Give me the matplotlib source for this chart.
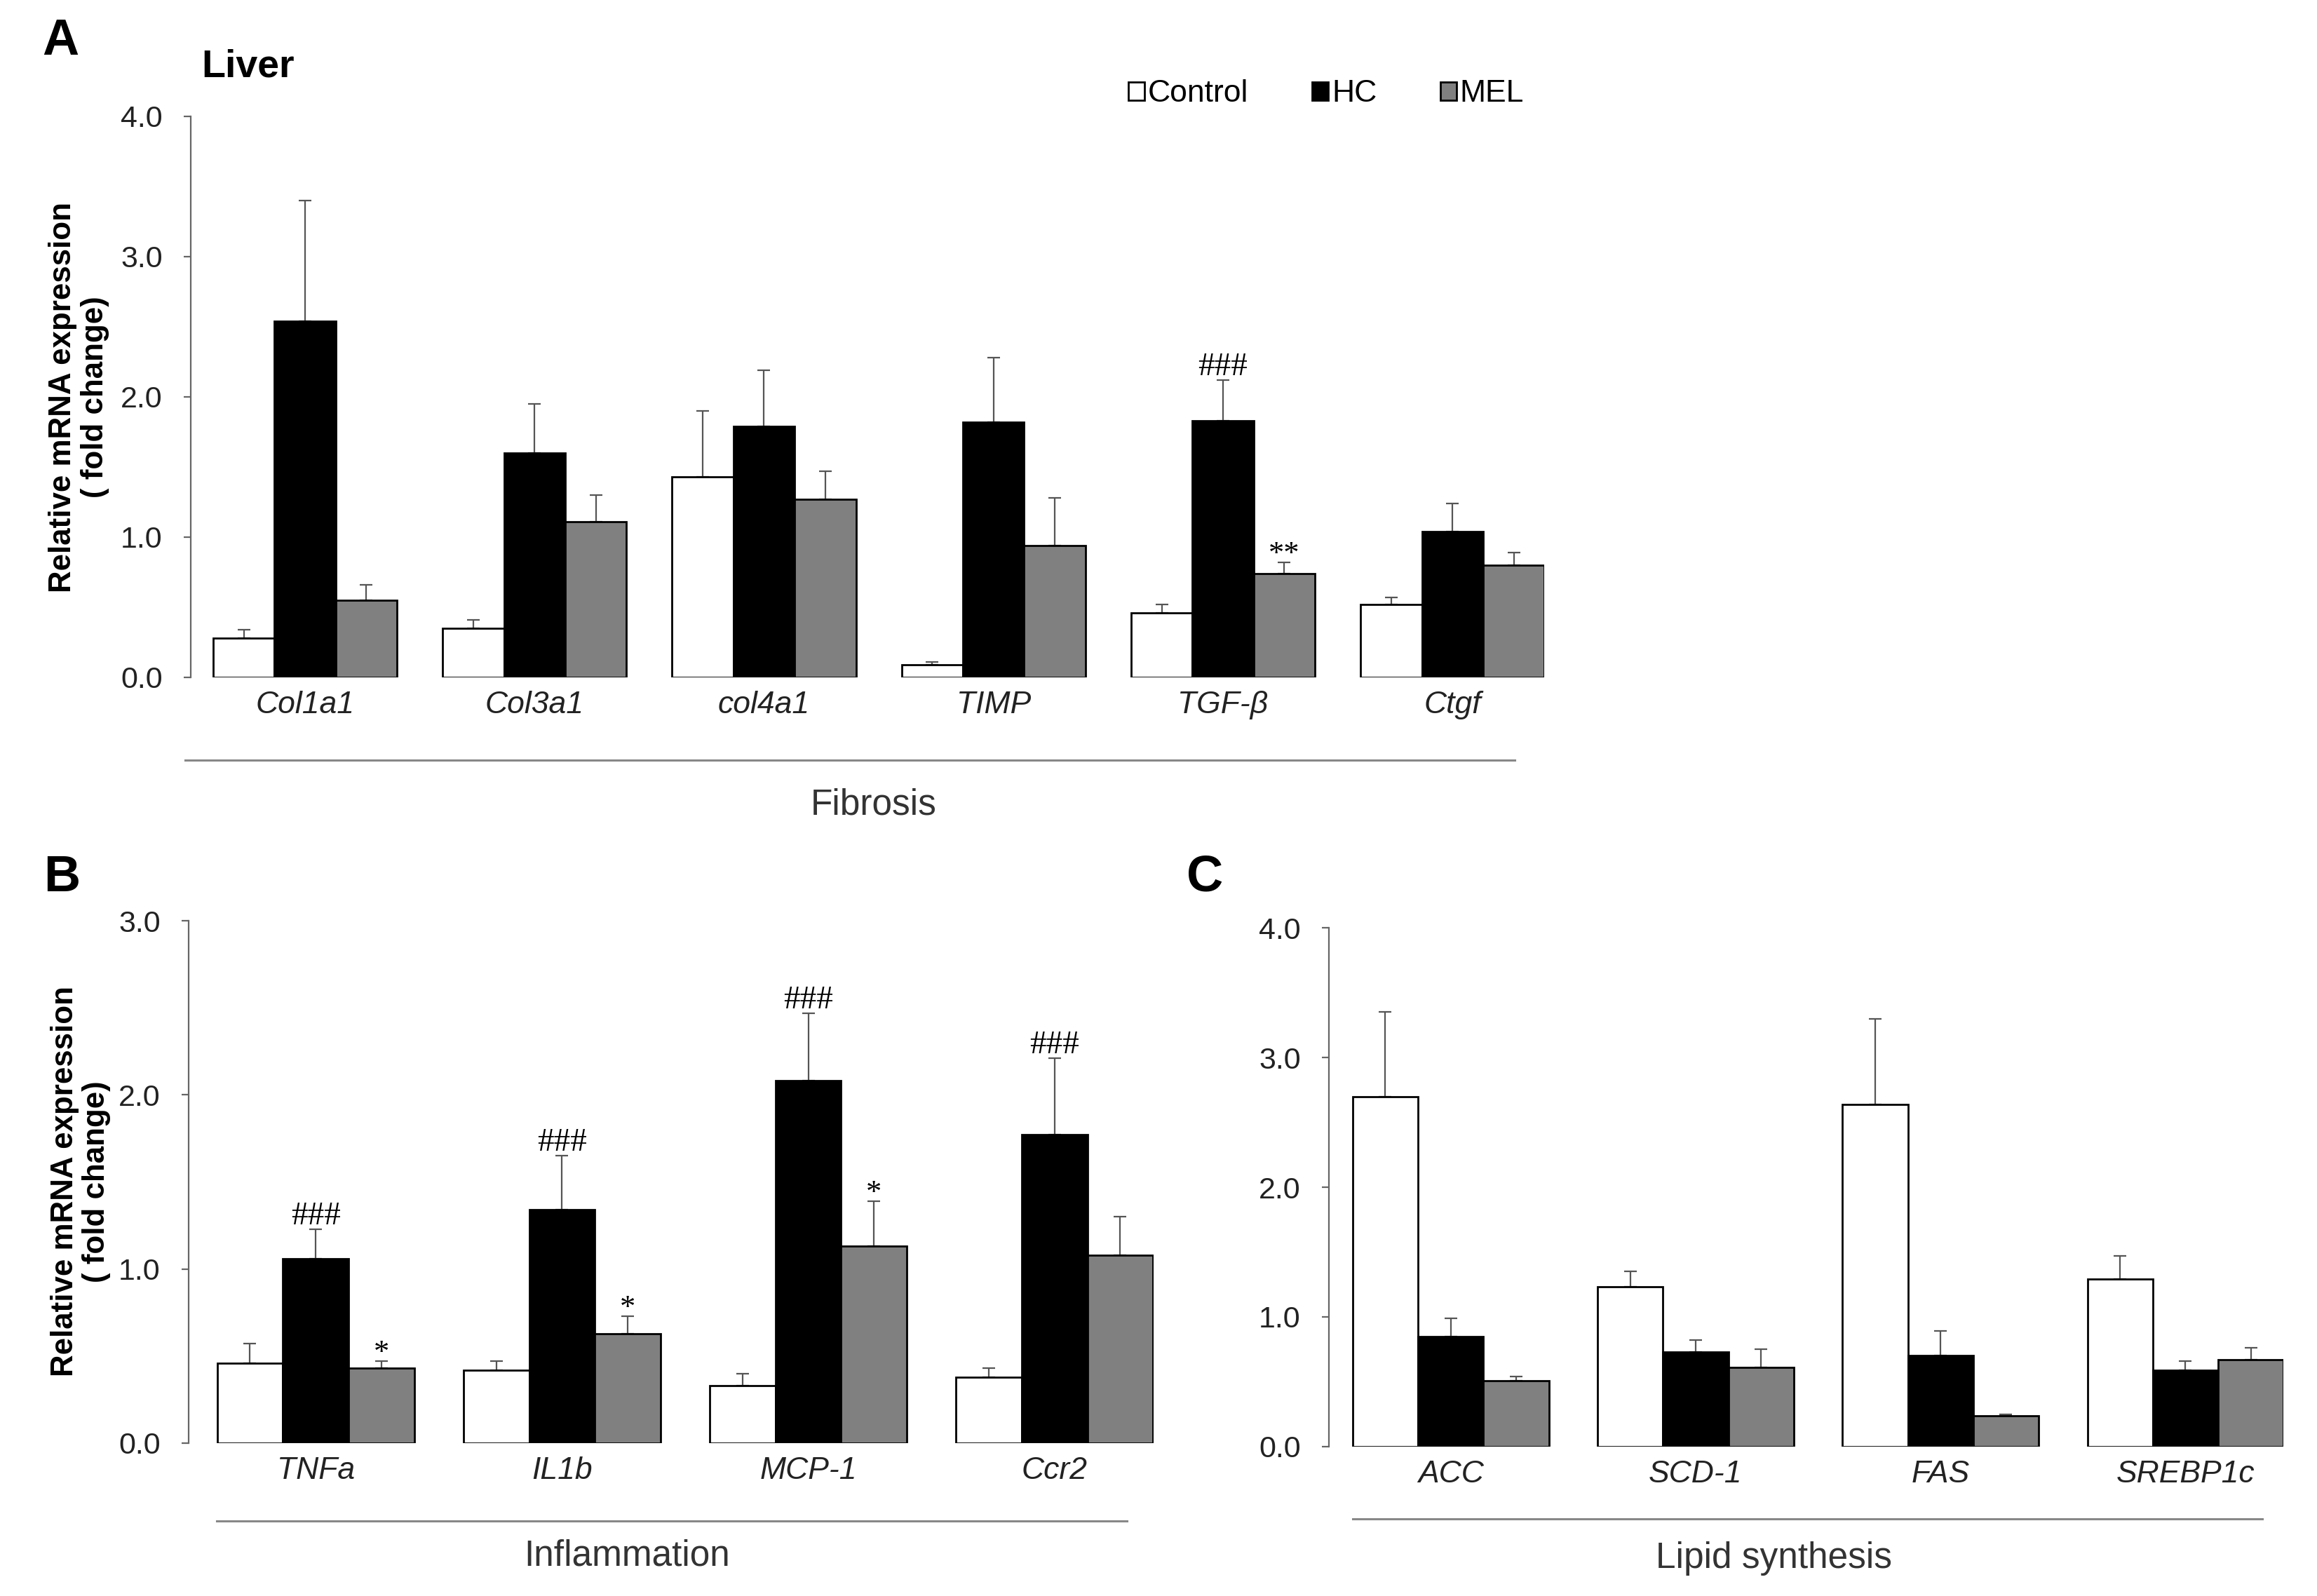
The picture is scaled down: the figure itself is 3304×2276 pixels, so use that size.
import numpy as np
import matplotlib
matplotlib.use('Agg')
import matplotlib.pyplot as plt
import matplotlib.transforms as mtransforms

plt.rcParams['font.family'] = ['Liberation Sans', 'DejaVu Sans']

# --- data ---
groups = ['Control', 'HC', 'MEL']
colors = ['white', 'black', '#808080']

genes_a = ['Col1a1', 'Col3a1', 'col4a1', 'TIMP', 'TGF-β', 'Ctgf']
ctrl_a = [0.28, 0.35, 1.43, 0.09, 0.46, 0.52]
ctrl_a_se = [0.06, 0.06, 0.47, 0.02, 0.06, 0.05]
hc_a = [2.54, 1.60, 1.79, 1.82, 1.83, 1.04]
hc_a_se = [0.86, 0.35, 0.40, 0.46, 0.29, 0.20]
mel_a = [0.55, 1.11, 1.27, 0.94, 0.74, 0.80]
mel_a_se = [0.11, 0.19, 0.20, 0.34, 0.08, 0.09]
hc_a_sig = ['', '', '', '', '###', '']
mel_a_sig = ['', '', '', '', '**', '']

genes_b = ['TNFa', 'IL1b', 'MCP-1', 'Ccr2']
ctrl_b = [0.46, 0.42, 0.33, 0.38]
ctrl_b_se = [0.11, 0.05, 0.07, 0.05]
hc_b = [1.06, 1.34, 2.08, 1.77]
hc_b_se = [0.17, 0.31, 0.39, 0.44]
mel_b = [0.43, 0.63, 1.13, 1.08]
mel_b_se = [0.04, 0.10, 0.26, 0.22]
hc_b_sig = ['###', '###', '###', '###']
mel_b_sig = ['*', '*', '*', '']

genes_c = ['ACC', 'SCD-1', 'FAS', 'SREBP1c']
ctrl_c = [2.70, 1.23, 2.64, 1.29]
ctrl_c_se = [0.65, 0.12, 0.66, 0.18]
hc_c = [0.85, 0.73, 0.70, 0.59]
hc_c_se = [0.14, 0.09, 0.19, 0.07]
mel_c = [0.51, 0.61, 0.24, 0.67]
mel_c_se = [0.03, 0.14, 0.01, 0.09]

W = 0.267
AX_COL = '#666666'
TXT_COL = '#222222'


def draw_panel(ax, genes, means, ses, sigs, ymax, xlim, group_line, group_label):
    x = np.arange(len(genes))
    bars = []
    for k, (m, s, c) in enumerate(zip(means, ses, colors)):
        xk = x + (k - 1) * W
        b = ax.bar(xk, m, W, color=c, edgecolor='black', linewidth=1.0,
                   zorder=3, label=groups[k])
        bars.append(b)
        # upper error only; the lower cap hides under the bar edge
        ax.errorbar(xk, m, yerr=[np.zeros(len(s)), s], fmt='none',
                    ecolor='#555555', elinewidth=0.8, capsize=3.2,
                    capthick=0.8, zorder=2)
        if sigs[k] is not None:
            for xi, mi, si, t in zip(xk, m, s, sigs[k]):
                if not t:
                    continue
                dy = 2.5 if t.startswith('#') else 0
                fs = 17 if t.startswith('#') else 16
                ax.annotate(t, (xi, mi + si), xytext=(0, dy),
                            textcoords='offset points', ha='center',
                            va='baseline', fontsize=fs,
                            family='Liberation Serif', color='black')
    ax.set_xlim(*xlim)
    ax.set_ylim(0, ymax)
    ax.set_yticks(np.arange(0, ymax + 0.01, 1.0))
    ax.yaxis.set_major_formatter(matplotlib.ticker.FormatStrFormatter('%.1f'))
    ax.set_xticks(x)
    ax.set_xticklabels(genes, style='italic', fontsize=16, color=TXT_COL)
    ax.tick_params(axis='x', length=0, pad=7)
    ax.tick_params(axis='y', direction='out', length=3.5, width=0.8,
                   color=AX_COL, labelsize=15.5, labelcolor=TXT_COL, pad=11)
    for sp in ['top', 'right', 'bottom']:
        ax.spines[sp].set_visible(False)
    ax.spines['left'].set_color(AX_COL)
    ax.spines['left'].set_linewidth(0.8)

    trans = mtransforms.blended_transform_factory(ax.transData, ax.transAxes)
    x0, x1, yl, xt, yt = group_line
    ax.plot([x0, x1], [yl, yl], color='#888888', lw=1.1, transform=trans,
            clip_on=False)
    ax.text(xt, yt, group_label, transform=trans, ha='center', va='center',
            fontsize=18.5, color='#333333')
    return bars


fig = plt.figure(figsize=(16.525, 11.38), dpi=200)

ax_a = fig.add_axes([0.0823, 0.5756, 0.584, 0.3515])
bars_a = draw_panel(ax_a, genes_a, [ctrl_a, hc_a, mel_a],
                    [ctrl_a_se, hc_a_se, mel_a_se],
                    [None, hc_a_sig, mel_a_sig], 4.0, (-0.498, 5.4),
                    (-0.523, 5.272, -0.1475, 2.477, -0.2275), 'Fibrosis')
ax_a.legend(handles=bars_a, loc='center right', bbox_to_anchor=(0.985, 1.04),
            ncol=3, frameon=False, fontsize=16, handlelength=0.52,
            handleheight=0.52, handletextpad=0.1, columnspacing=2.05,
            borderpad=0, borderaxespad=0)

ax_b = fig.add_axes([0.0814, 0.0958, 0.4163, 0.3273])
draw_panel(ax_b, genes_b, [ctrl_b, hc_b, mel_b],
           [ctrl_b_se, hc_b_se, mel_b_se],
           [None, hc_b_sig, mel_b_sig], 3.0, (-0.516, 3.402),
           (-0.402, 3.293, -0.149, 1.265, -0.216), 'Inflammation')

ax_c = fig.add_axes([0.5734, 0.0936, 0.4118, 0.3251])
draw_panel(ax_c, genes_c, [ctrl_c, hc_c, mel_c],
           [ctrl_c_se, hc_c_se, mel_c_se],
           [None, None, None], 4.0, (-0.497, 3.4),
           (-0.4, 3.313, -0.139, 1.319, -0.215), 'Lipid synthesis')

# panel letters, title and y labels
fig.text(0.026, 0.974, 'A', fontsize=26, fontweight='bold', ha='center', va='center')
fig.text(0.0266, 0.450, 'B', fontsize=26, fontweight='bold', ha='center', va='center')
fig.text(0.520, 0.450, 'C', fontsize=26, fontweight='bold', ha='center', va='center')
fig.text(0.0868, 0.9517, 'Liver', fontsize=20, fontweight='bold', ha='left', va='baseline')

ylab = 'Relative mRNA expression\n( fold change)'
fig.text(0.0340, 0.7513, ylab, rotation=90, fontsize=15.8, fontweight='bold',
         ha='center', va='center', multialignment='center', linespacing=1.15)
fig.text(0.0348, 0.2597, ylab, rotation=90, fontsize=15.8, fontweight='bold',
         ha='center', va='center', multialignment='center', linespacing=1.15)

fig.savefig('out.png', dpi=200, facecolor='white')
